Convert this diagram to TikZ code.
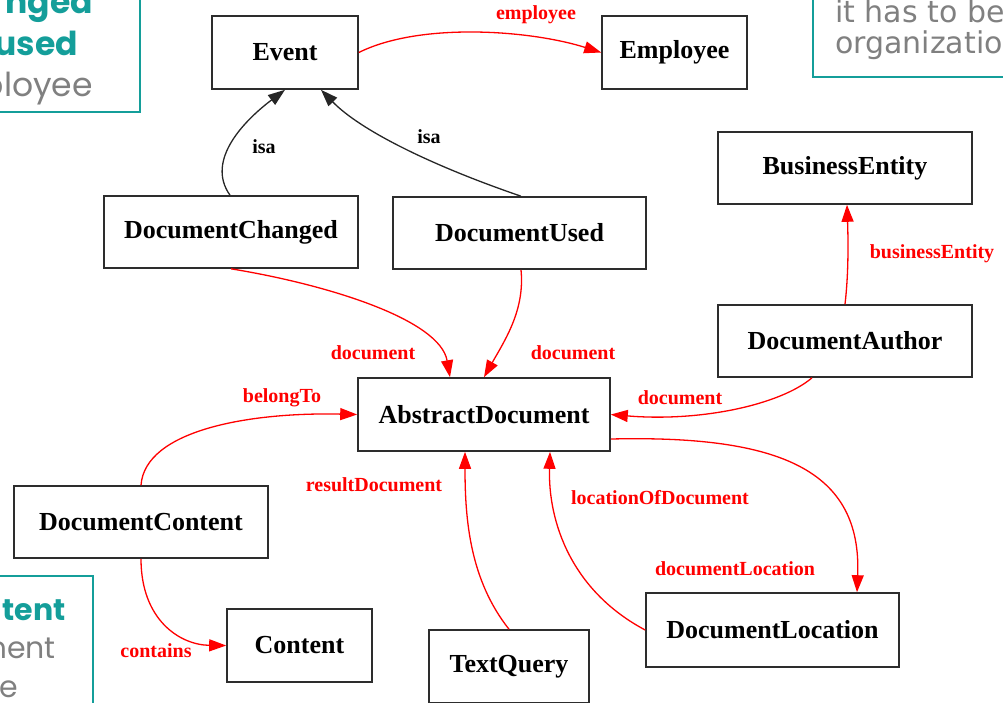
\documentclass[tikz,border=0pt]{standalone}
\usepackage{fontspec}
\setmainfont{Liberation Serif}
\newfontfamily\gfont{Poppins}
\newfontfamily\vfont{DejaVu Sans}
\usetikzlibrary{arrows.meta}
\definecolor{tealc}{RGB}{20,158,154}
\definecolor{greytxt}{RGB}{128,128,128}
\definecolor{boxline}{RGB}{45,45,45}
\definecolor{edgered}{RGB}{255,0,0}
\begin{document}
\begin{tikzpicture}[x=1pt,y=-1pt,
  cls/.style={draw=boxline, line width=1.6pt, fill=white, inner sep=0pt,
    minimum height=73pt, font=\bfseries\fontsize{26}{30}\selectfont},
  rel/.style={draw=edgered, line width=1.3pt, -{Triangle[length=17pt,width=12pt]}},
  isarel/.style={draw=black!85, line width=1.3pt, -{Triangle[length=17pt,width=12pt]}},
  rlbl/.style={text=edgered, inner sep=0pt, font=\bfseries\fontsize{20}{24}\selectfont},
  klbl/.style={text=black, inner sep=0pt, font=\bfseries\fontsize{20}{24}\selectfont},
  note/.style={draw=tealc, line width=2.5pt},
  notehead/.style={text=tealc, inner sep=0pt, font=\gfont\bfseries\fontsize{33}{40}\selectfont},
  notebody/.style={text=greytxt, inner sep=0pt, font=\gfont\fontsize{33}{40}\selectfont},
  notehead2/.style={text=tealc, inner sep=0pt, font=\gfont\bfseries\fontsize{30}{36}\selectfont},
  notebody2/.style={text=greytxt, inner sep=0pt, font=\gfont\fontsize{30}{36}\selectfont},
  noteright/.style={text=greytxt, inner sep=0pt, font=\vfont\fontsize{30}{34}\selectfont}
]
\useasboundingbox (0,0) rectangle (1003,702);
\clip (0,0) rectangle (1003,702);

% partial note boxes at the edges
\draw[note] (-10,-10) rectangle (140,112);
\node[notehead, anchor=base east] (n1a) at (93,13) {nged};
\node[notehead, anchor=base east] (n1b) at (78,55) {used};
\node[notebody, anchor=base east] (n1c) at (93,96) {ployee};

\draw[note] (-10,576) rectangle (93,712);
\node[notehead2, anchor=base east] (n2a) at (66,620) {tent};
\node[notebody2, anchor=base east] (n2b) at (56,658) {ment};
\node[notebody2, anchor=base east] (n2c) at (18,697) {e};

\draw[note] (813,-10) rectangle (1013,77);
\node[noteright, anchor=base west] (n3a) at (835,22) {it has to be};
\node[noteright, anchor=base west] (n3b) at (835,53) {organizatio};

% class nodes
\node[cls, minimum width=146pt] (ev) at (285,52.5) {Event};
\node[cls, minimum width=145pt] (emp) at (674.5,52.5) {Employee};
\node[cls, minimum width=254pt, minimum height=72pt] (dch) at (231,232) {DocumentChanged};
\node[cls, minimum width=253pt, minimum height=72pt] (du) at (519.5,233) {DocumentUsed};
\node[cls, minimum width=254pt, minimum height=72pt] (be) at (845,168) {BusinessEntity};
\node[cls, minimum width=254pt, minimum height=72pt] (da) at (845,341) {DocumentAuthor};
\node[cls, minimum width=252pt] (ad) at (484,414.5) {AbstractDocument};
\node[cls, minimum width=254pt, minimum height=72pt] (dcn) at (141,522) {DocumentContent};
\node[cls, minimum width=145pt] (ct) at (299.5,645.5) {Content};
\node[cls, minimum width=160pt] (tq) at (509,666.5) {TextQuery};
\node[cls, minimum width=253pt, minimum height=74pt] (dl) at (772.5,630) {DocumentLocation};

% connectors
\draw[rel] (ev.east) .. controls (420,22) and (530,30) .. (emp.west);
\node[rlbl] (l1) at (536,15) {employee};

\draw[isarel] ([xshift=-1pt]dch.north) .. controls (205,160) and (245,120) .. (ev.south);
\node[klbl] (l2) at (264,147) {isa};

\draw[isarel] ([xshift=1.5pt]du.north) .. controls (430,165) and (360,130) .. ([xshift=36pt]ev.south);
\node[klbl] (l3) at (429,137) {isa};

\draw[rel] (dch.south) .. controls (330,285) and (440,320) .. ([xshift=-34pt]ad.north);
\node[rlbl] (l4) at (373,353) {document};

\draw[rel] ([xshift=1.5pt]du.south) .. controls (525,310) and (505,340) .. (ad.north);
\node[rlbl] (l5) at (573,353) {document};

\draw[rel] ([xshift=-33pt]da.south) .. controls (780,405) and (700,422) .. (ad.east);
\node[rlbl] (l6) at (680,398) {document};

\draw[rel] (da.north) .. controls (849,270) and (848,235) .. ([xshift=2pt]be.south);
\node[rlbl] (l7) at (932,254) {businessEntity};

\draw[rel] (dcn.north) .. controls (145,430) and (250,412) .. (ad.west);
\node[rlbl] (l8) at (282,398) {belongTo};

\draw[rel] (dcn.south) .. controls (141,620) and (180,645) .. (ct.west);
\node[rlbl] (l9) at (156,651) {contains};

\draw[rel] (tq.north) .. controls (470,580) and (465,520) .. ([xshift=-19pt]ad.south);
\node[rlbl] (l10) at (374,485) {resultDocument};

\draw[rel] (dl.west) .. controls (570,590) and (548,520) .. ([xshift=66pt]ad.south);
\node[rlbl] (l11) at (660,498) {locationOfDocument};

\draw[rel] ([yshift=-24.5pt]ad.east) .. controls (780,435) and (862,470) .. ([xshift=84.5pt]dl.north);
\node[rlbl] (l12) at (735,569) {documentLocation};
\end{tikzpicture}
\end{document}
